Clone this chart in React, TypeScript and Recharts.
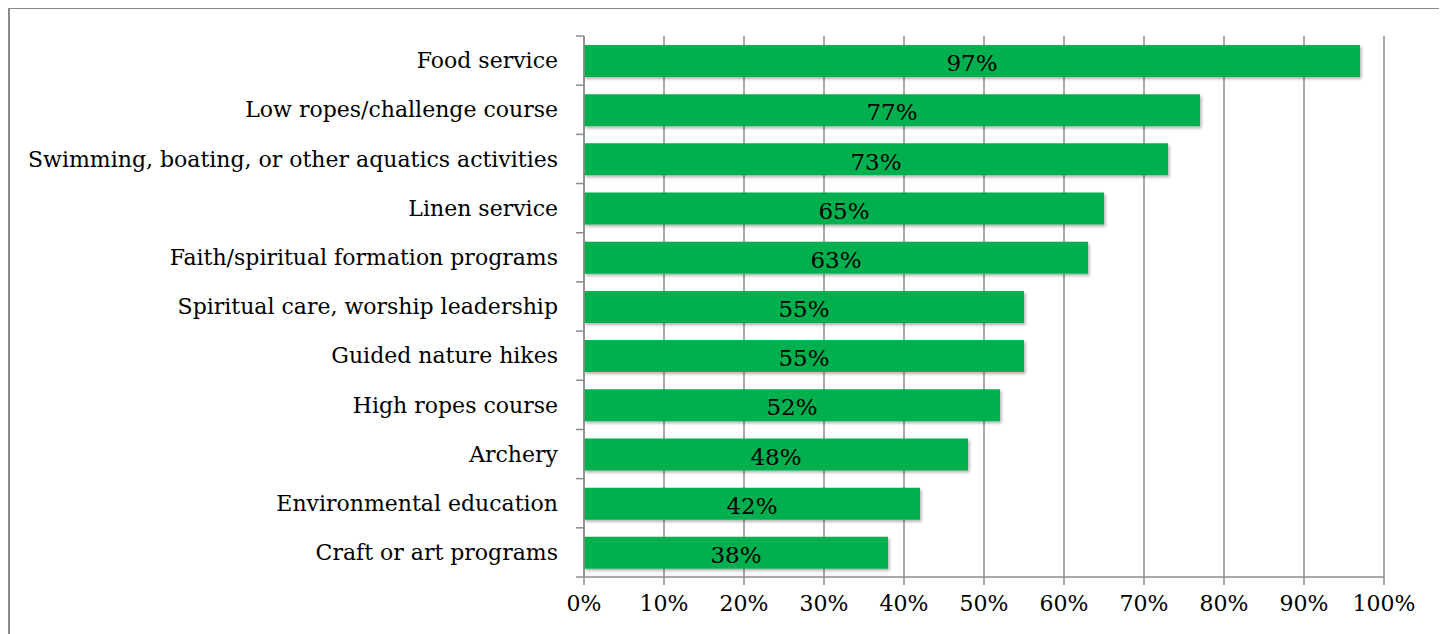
import { BarChart, Bar, XAxis, YAxis, CartesianGrid, LabelList } from "recharts";

const categories = [
  "Food service",
  "Low ropes/challenge course",
  "Swimming, boating, or other aquatics activities",
  "Linen service",
  "Faith/spiritual formation programs",
  "Spiritual care, worship leadership",
  "Guided nature hikes",
  "High ropes course",
  "Archery",
  "Environmental education",
  "Craft or art programs",
];
const percents = [97, 77, 73, 65, 63, 55, 55, 52, 48, 42, 38];
const xTicks = [0, 10, 20, 30, 40, 50, 60, 70, 80, 90, 100];

const data = categories.map((name, i) => ({ name, value: percents[i] }));

const FONT = "'DejaVu Serif', serif";
const GRID = "#8c8c8c";
const W = 1434;
const H = 629;
const margin = { top: 27, right: 60, bottom: 0, left: 0 };
const yAxisWidth = 574;
const xAxisHeight = 61;
const band = (H - margin.top - margin.bottom - xAxisHeight) / categories.length;

const CategoryTick = (props: any) => {
  const { x, y, payload, index, visibleTicksCount } = props;
  const axisX = x + 26;
  return (
    <g>
      <text x={x} y={y} dy="0.35em" textAnchor="end" fontFamily={FONT} fontSize={22} fill="#000">
        {payload.value}
      </text>
      <line x1={axisX - 8} x2={axisX} y1={y - band / 2} y2={y - band / 2} stroke={GRID} strokeWidth={1.5} />
      {index === visibleTicksCount - 1 && (
        <line x1={axisX - 8} x2={axisX} y1={y + band / 2} y2={y + band / 2} stroke={GRID} strokeWidth={1.5} />
      )}
    </g>
  );
};

export default function App() {
  return (
    <div
      style={{
        width: 1438,
        height: 640,
        border: `2px solid #8a8a8a`,
        boxSizing: "border-box",
        marginTop: -1,
        background: "#fff",
      }}
    >
      <style>{"html, body { overflow: hidden; }"}</style>
      <svg width={0} height={0} style={{ position: "absolute" }}>
        <defs>
          <filter id="barShadow" x="-5%" y="-20%" width="110%" height="160%">
            <feDropShadow dx={1.5} dy={2} stdDeviation={1.5} floodColor="#000" floodOpacity={0.3} />
          </filter>
        </defs>
      </svg>
      <BarChart width={W} height={H} data={data} layout="vertical" margin={margin}>
        <CartesianGrid horizontal={false} stroke={GRID} strokeWidth={1.5} />
        <XAxis
          type="number"
          domain={[0, 100]}
          ticks={xTicks}
          interval={0}
          tickFormatter={(v: number) => `${v}%`}
          height={xAxisHeight}
          stroke={GRID}
          strokeWidth={1.5}
          tickSize={8}
          tickMargin={10}
          tick={{ fill: "#000", fontSize: 22, fontFamily: FONT }}
        />
        <YAxis
          type="category"
          dataKey="name"
          width={yAxisWidth}
          stroke={GRID}
          strokeWidth={1.5}
          tickLine={false}
          tickSize={8}
          tickMargin={18}
          interval={0}
          tick={<CategoryTick />}
        />
        <Bar dataKey="value" fill="#00b050" barSize={32} isAnimationActive={false} filter="url(#barShadow)">
          <LabelList
            dataKey="value"
            position="center"
            formatter={(v: any) => `${v}%`}
            fill="#000"
            fontSize={23}
            fontFamily={FONT}
            dy={2}
          />
        </Bar>
      </BarChart>
    </div>
  );
}
